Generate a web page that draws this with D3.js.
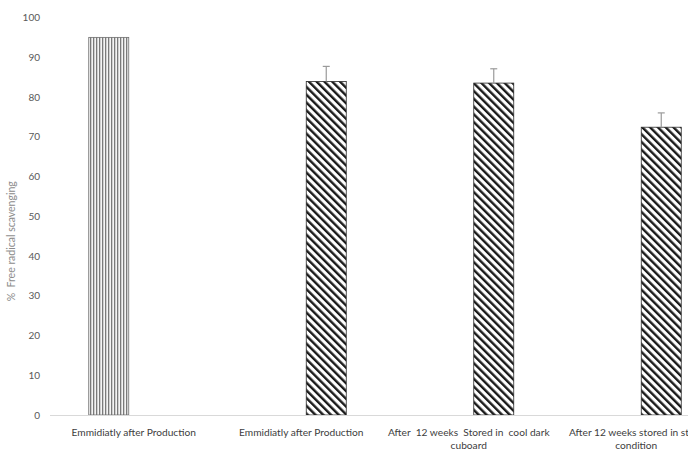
<!DOCTYPE html>
<html><head><meta charset="utf-8">
<script src="https://cdn.jsdelivr.net/npm/d3@7"></script>
<style>html,body{margin:0;padding:0;background:#fff;overflow:hidden}</style>
</head><body>
<script>
const categories = [
  ["Emmidiatly after Production"],
  ["Emmidiatly after Production"],
  ["After  12 weeks  Stored in  cool dark", "cuboard"],
  ["After 12 weeks stored in store", "condition"]
];
const catKeys = ["c1","c2","c3","c4"];
const series = ["s1","s2"];
const seriesValues = {
  s1: [95.0, null, null, null],
  s2: [null, 83.9, 83.5, 72.4]
};
const seriesErrors = {
  s1: [null, null, null, null],
  s2: [null, 3.8, 3.6, 3.6]
};
const yTicks = [0,10,20,30,40,50,60,70,80,90,100];
const yTitle = "%  Free radical scavenging";

const W = 688, H = 451;
const svg = d3.select("body").append("svg").attr("width", W).attr("height", H)
  .style("font-family", "Lato, 'Open Sans', sans-serif");

const defs = svg.append("defs");
const pv = defs.append("pattern").attr("id","vert").attr("patternUnits","userSpaceOnUse")
  .attr("width",3).attr("height",3);
pv.append("rect").attr("width",3).attr("height",3).attr("fill","#f4f4f4");
pv.append("rect").attr("x",0).attr("width",1.3).attr("height",3).attr("fill","#7a7a7a");

const pd = defs.append("pattern").attr("id","diag").attr("patternUnits","userSpaceOnUse")
  .attr("width",5.5).attr("height",5.5).attr("patternTransform","rotate(-45)");
pd.append("rect").attr("width",5.5).attr("height",5.5).attr("fill","#fff");
pd.append("rect").attr("x",0).attr("width",2.4).attr("height",5.5).attr("fill","#1a1a1a");

const x0 = d3.scaleBand().domain(catKeys).range([50, 720]).paddingInner(0).paddingOuter(0);
const xs = d3.scaleBand().domain(series).range([0, x0.bandwidth()]).paddingInner(0.2).paddingOuter(0.775);
const y = d3.scaleLinear().domain([0,100]).range([415, 17.5]);

// y tick labels
svg.append("g").selectAll("text").data(yTicks).join("text")
  .attr("x", 40).attr("y", d => y(d)).attr("dy","0.35em")
  .attr("text-anchor","end").attr("font-size", 10).attr("fill","#595959")
  .text(d => d);

// y title
svg.append("text").attr("transform", `translate(15,${(y(0)+y(100))/2 + 25}) rotate(-90)`)
  .attr("text-anchor","middle").attr("font-size", 10.5).attr("fill","#8c8c8c")
  .attr("xml:space","preserve").style("white-space","pre")
  .text(yTitle);

// bars
const fills = {s1: "url(#vert)", s2: "url(#diag)"};
const strokes = {s1: "#6e6e6e", s2: "#2a2a2a"};
series.forEach(s => {
  const data = catKeys.map((c,i) => ({c, v: seriesValues[s][i], e: seriesErrors[s][i]})).filter(d => d.v != null);
  const g = svg.append("g");
  g.selectAll("rect").data(data).join("rect")
    .attr("x", d => x0(d.c) + xs(s)).attr("width", xs.bandwidth())
    .attr("y", d => y(d.v)).attr("height", d => y(0) - y(d.v))
    .attr("fill", fills[s]).attr("stroke", strokes[s]).attr("stroke-width", 0.8);
  const eg = g.selectAll("g.err").data(data.filter(d => d.e != null)).join("g").attr("class","err");
  eg.append("line")
    .attr("x1", d => x0(d.c) + xs(s) + xs.bandwidth()/2).attr("x2", d => x0(d.c) + xs(s) + xs.bandwidth()/2)
    .attr("y1", d => y(d.v)).attr("y2", d => y(d.v + d.e))
    .attr("stroke","#9a9a9a").attr("stroke-width",1.2);
  eg.append("line")
    .attr("x1", d => x0(d.c) + xs(s) + xs.bandwidth()/2 - 3.5).attr("x2", d => x0(d.c) + xs(s) + xs.bandwidth()/2 + 3.5)
    .attr("y1", d => y(d.v + d.e)).attr("y2", d => y(d.v + d.e))
    .attr("stroke","#9a9a9a").attr("stroke-width",1.2);
});

// x axis line
svg.append("line").attr("x1", 50).attr("x2", 720).attr("y1", y(0)+0.5).attr("y2", y(0)+0.5)
  .attr("stroke","#d9d9d9").attr("stroke-width",1);

// category labels
const lab = svg.append("g").selectAll("text").data(catKeys).join("text")
  .attr("x", d => x0(d) + x0.bandwidth()/2).attr("y", 436)
  .attr("text-anchor","middle").attr("font-size", 10.2).attr("fill","#404040");
lab.each(function(d,i){
  const t = d3.select(this);
  categories[i].forEach((line, j) => {
    t.append("tspan").attr("x", x0(d) + x0.bandwidth()/2).attr("dy", j === 0 ? 0 : 13)
      .attr("xml:space","preserve").style("white-space","pre").text(line);
  });
});
</script>
</body></html>
